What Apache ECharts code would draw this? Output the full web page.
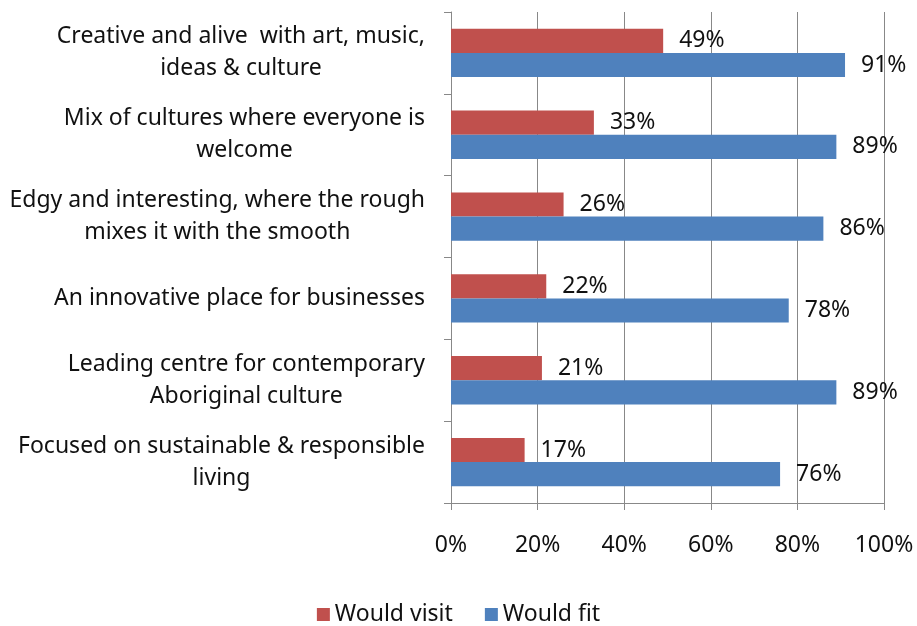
<!DOCTYPE html>
<html>
<head>
<meta charset="utf-8">
<script src="https://cdn.jsdelivr.net/npm/echarts@6/dist/echarts.min.js"></script>
<style>html,body{margin:0;padding:0;background:#fff}#c{width:917px;height:626px}</style>
</head>
<body>
<div id="c"></div>
<script>
const categories = [
  "Creative and alive  with art, music,\nideas & culture",
  "Mix of cultures where everyone is\nwelcome",
  "Edgy and interesting, where the rough\nmixes it with the smooth",
  "An innovative place for businesses",
  "Leading centre for contemporary\nAboriginal culture",
  "Focused on sustainable & responsible\nliving"
];
const wouldVisit = [49, 33, 26, 22, 21, 17];
const wouldFit = [91, 89, 86, 78, 89, 76];
const xTicks = [0, 20, 40, 60, 80, 100];

const FONT = "Noto Sans";
const FS = 23;
const chart = echarts.init(document.getElementById('c'));
chart.setOption({
  animation: false,
  textStyle: {fontFamily: FONT},
  grid: {left: 451, right: 33, top: 12, bottom: 123, containLabel: false},
  legend: {
    data: ['Would visit', 'Would fit'],
    top: 598, left: 'center',
    icon: 'rect', itemWidth: 13, itemHeight: 13, itemGap: 32,
    textStyle: {fontSize: FS, color: '#111', fontFamily: FONT}
  },
  xAxis: {
    type: 'value', min: 0, max: 100, interval: 20,
    axisLine: {show: true, lineStyle: {color: '#888', width: 1}},
    axisTick: {show: true, length: 7, lineStyle: {color: '#888'}},
    splitLine: {show: true, lineStyle: {color: '#888', width: 1}},
    axisLabel: {formatter: v => xTicks.includes(v) ? v + '%' : '', fontSize: FS, color: '#111', margin: 31, fontFamily: FONT}
  },
  yAxis: {
    type: 'category', data: categories, inverse: true,
    axisLine: {show: true, lineStyle: {color: '#888', width: 1}},
    axisTick: {show: true, length: 7, lineStyle: {color: '#888'}},
    axisLabel: {
      fontSize: FS, color: '#111', margin: 26, align: 'right', lineHeight: 32, fontFamily: FONT,
      formatter: v => v.split('\n').map(l => '{c|' + l + '}').join('\n'),
      rich: {c: {align: 'center', fontSize: FS, lineHeight: 32, color: '#111', fontFamily: FONT}}
    }
  },
  series: [
    {
      name: 'Would visit', type: 'bar', data: wouldVisit,
      barGap: '0%', barCategoryGap: '41%',
      itemStyle: {color: '#C0504D'},
      label: {show: true, position: 'right', distance: 16, formatter: '{c}%', fontSize: FS, color: '#111', fontFamily: FONT}
    },
    {
      name: 'Would fit', type: 'bar', data: wouldFit,
      barGap: '0%', barCategoryGap: '41%',
      itemStyle: {color: '#4F81BD'},
      label: {show: true, position: 'right', distance: 16, formatter: '{c}%', fontSize: FS, color: '#111', fontFamily: FONT}
    }
  ]
});
</script>
</body>
</html>
